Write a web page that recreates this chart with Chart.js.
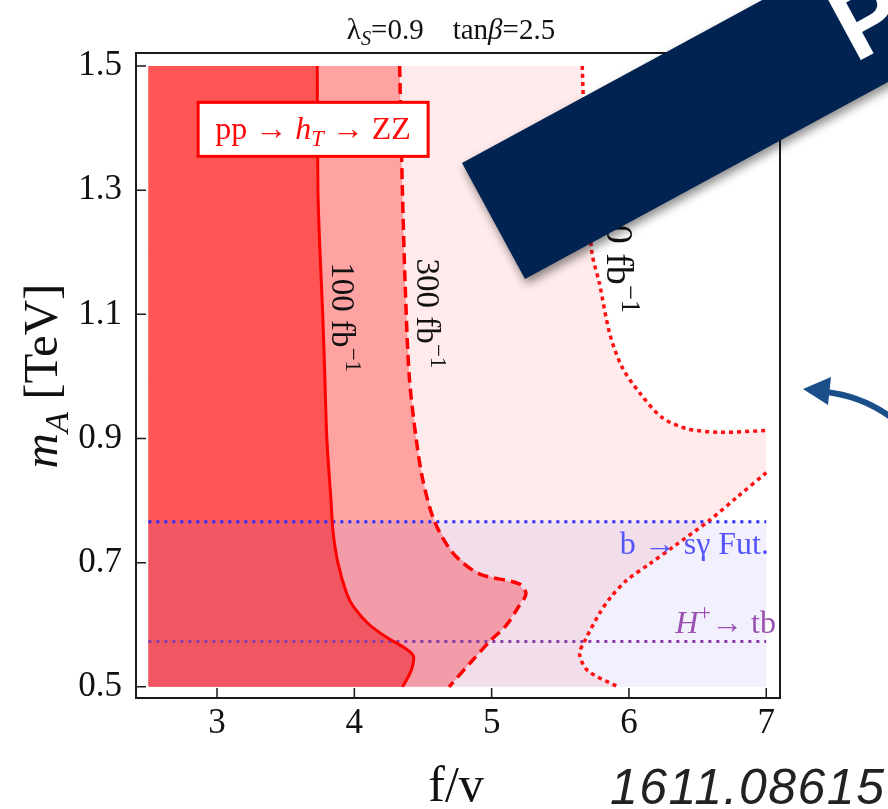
<!DOCTYPE html>
<html>
<head>
<meta charset="utf-8">
<script src="https://cdn.jsdelivr.net/npm/chart.js@4.4.1/dist/chart.umd.min.js"></script>
<style>
  html, body { margin: 0; padding: 0; background: #fff; }
  #wrap { position: relative; width: 888px; height: 809px; }
</style>
</head>
<body>
<div id="wrap"><canvas id="reach"></canvas></div>
<script>
// axis ticks
const xTicks = [3, 4, 5, 6, 7];
const yTicks = [0.5, 0.7, 0.9, 1.1, 1.3, 1.5];

// scanned parameter window: f/v and m_A [TeV]
const fvRange = [2.5, 7.0];
const mARange = [0.5, 1.5];

// pp -> h_T -> ZZ reach contours, points are [f/v, m_A]
const contour100 = [
  [3.73, 1.5], [3.735, 1.3], [3.75, 1.2], [3.77, 1.1], [3.785, 1.0], [3.80, 0.9],
  [3.83, 0.8], [3.845, 0.75], [3.88, 0.7], [3.945, 0.65], [4.00, 0.627], [4.11, 0.6],
  [4.24, 0.579], [4.35, 0.565], [4.43, 0.55], [4.42, 0.53], [4.39, 0.515], [4.35, 0.5]
];
const contour300 = [
  [4.33, 1.5], [4.35, 1.3], [4.37, 1.15], [4.40, 1.0], [4.45, 0.9], [4.50, 0.832],
  [4.585, 0.766], [4.72, 0.715], [4.91, 0.682], [5.20, 0.666], [5.25, 0.65],
  [5.19, 0.627], [5.11, 0.6], [4.985, 0.573], [4.85, 0.54], [4.69, 0.5]
];
const contour3000Upper = [
  [5.66, 1.5], [5.675, 1.4], [5.70, 1.3], [5.73, 1.2], [5.785, 1.15], [5.86, 1.069],
  [5.95, 1.015], [6.08, 0.973], [6.24, 0.934], [6.42, 0.916], [6.66, 0.91], [7.0, 0.913]
];
const contour3000Lower = [
  [7.0, 0.845], [6.79, 0.806], [6.585, 0.768], [6.32, 0.725], [6.15, 0.698],
  [5.98, 0.671], [5.87, 0.645], [5.785, 0.618], [5.676, 0.573], [5.64, 0.553],
  [5.70, 0.526], [5.92, 0.5]
];

// indirect bounds on m_A [TeV]
const bsgFuture = 0.766;
const chargedHiggsTb = 0.573;

const [x0, x1] = fvRange;
const [y0, y1] = mARange;
const toPts = arr => arr.map(([x, y]) => ({ x, y }));

const region100 = [{ x: x0, y: y1 }, ...toPts(contour100), { x: x0, y: y0 }];
const region300 = [{ x: x0, y: y1 }, ...toPts(contour300), { x: x0, y: y0 }];
const region3000 = [{ x: x0, y: y1 }, ...toPts(contour3000Upper), ...toPts(contour3000Lower), { x: x0, y: y0 }];
const flavourBand = [{ x: x0, y: y0 }, { x: x1, y: y0 }, { x: x1, y: bsgFuture }, { x: x0, y: bsgFuture }];

const area = (data, color, order) => ({
  data, showLine: true, fill: 'shape', backgroundColor: color,
  borderWidth: 0, pointRadius: 0, tension: 0, order
});
const curve = (data, color, width, dash, order, tension = 0.3) => ({
  data, showLine: true, fill: false, borderColor: color, borderWidth: width,
  borderDash: dash, borderCapStyle: 'butt', pointRadius: 0, tension, order
});

const SERIF = "'Liberation Serif', 'DejaVu Serif', serif";

// text made of runs: plain strings or [text, {i, sub, sup}]
function drawRich(ctx, parts, x, y, size, align, color) {
  const items = parts.map(p => {
    const [t, o] = typeof p === 'string' ? [p, {}] : p;
    const s = (o.sub || o.sup) ? size * 0.7 : size;
    const font = `${o.i ? 'italic ' : ''}${s}px ${SERIF}`;
    ctx.font = font;
    return { t, font, w: ctx.measureText(t).width, dy: o.sub ? size * 0.22 : o.sup ? -size * 0.4 : 0 };
  });
  const total = items.reduce((a, b) => a + b.w, 0);
  let cx = align === 'right' ? x - total : align === 'center' ? x - total / 2 : x;
  ctx.fillStyle = color;
  ctx.textAlign = 'left';
  ctx.textBaseline = 'alphabetic';
  for (const it of items) {
    ctx.font = it.font;
    ctx.fillText(it.t, cx, y + it.dy);
    cx += it.w;
  }
  return total;
}

const decor = {
  id: 'decor',
  afterDatasetsDraw(chart) {
    const { ctx, scales: { x, y } } = chart;
    ctx.save();

    // luminosity labels, running down along the contours
    const lumi = [
      ['100', 3.84, 1.184, 'left', 33],
      ['300', 4.46, 1.19, 'left', 33],
      ['3000', 5.84, 1.102, 'right', 38]
    ];
    for (const [l, fx, my, al, sz] of lumi) {
      ctx.save();
      ctx.translate(x.getPixelForValue(fx), y.getPixelForValue(my));
      ctx.rotate(Math.PI / 2);
      drawRich(ctx, [l + ' fb', ['−1', { sup: true }]], 0, 0, sz, al, '#111');
      ctx.restore();
    }

    // process box
    const bx = x.getPixelForValue(3.70), by = y.getPixelForValue(1.398);
    ctx.fillStyle = '#fff';
    ctx.fillRect(bx - 115, by - 27, 230, 54);
    ctx.strokeStyle = '#ff0000';
    ctx.lineWidth = 3;
    ctx.strokeRect(bx - 115, by - 27, 230, 54);
    drawRich(ctx, ['pp → ', ['h', { i: true }], ['T', { i: true, sub: true }], ' → ZZ'], bx, by + 10, 32, 'center', '#ff0a0a');

    // flavour bound labels
    drawRich(ctx, ['b → sγ Fut.'], x.getPixelForValue(7.02), y.getPixelForValue(0.7145), 32, 'right', '#5555ff');
    drawRich(ctx, [['H', { i: true }], ['+', { sup: true }], '→ tb'], x.getPixelForValue(7.07), y.getPixelForValue(0.587), 32, 'right', '#9a50b0');
    ctx.restore();
  },
  afterDraw(chart) {
    const { ctx, chartArea: a, scales: { x, y } } = chart;
    ctx.save();

    // frame with inward ticks on left and bottom
    ctx.strokeStyle = '#1a1a1a';
    ctx.lineWidth = 2;
    ctx.strokeRect(a.left, a.top, a.right - a.left, a.bottom - a.top);
    ctx.lineWidth = 1.5;
    ctx.beginPath();
    for (const v of yTicks) {
      const py = y.getPixelForValue(v);
      ctx.moveTo(a.left, py); ctx.lineTo(a.left + 10, py);
    }
    for (const v of xTicks) {
      const px = x.getPixelForValue(v);
      ctx.moveTo(px, a.bottom); ctx.lineTo(px, a.bottom - 10);
    }
    ctx.stroke();

    // title and axis titles
    drawRich(ctx, ['λ', ['S', { i: true, sub: true }], '=0.9    tan', ['β', { i: true }], '=2.5'], 451, 39, 29, 'center', '#111');
    drawRich(ctx, ['f/v'], 456, 801, 50, 'center', '#111');
    ctx.save();
    ctx.translate(57, 376);
    ctx.rotate(-Math.PI / 2);
    drawRich(ctx, [['m', { i: true }], ['A', { i: true, sub: true }], ' [TeV]'], 0, 0, 49, 'center', '#111');
    ctx.restore();

    // arXiv reference
    ctx.font = "italic 50px 'Liberation Sans', Arial, sans-serif";
    ctx.fillStyle = '#222';
    ctx.textAlign = 'left';
    ctx.letterSpacing = '1.5px';
    ctx.fillText('1611.08615', 610, 804);
    ctx.letterSpacing = '0px';

    // callout arrow
    ctx.strokeStyle = '#1b4f8a';
    ctx.fillStyle = '#1b4f8a';
    ctx.lineWidth = 6;
    ctx.beginPath();
    ctx.moveTo(826, 392);
    ctx.quadraticCurveTo(862, 396, 892, 418);
    ctx.stroke();
    ctx.beginPath();
    ctx.moveTo(803, 389); ctx.lineTo(831, 377); ctx.lineTo(828, 405);
    ctx.closePath();
    ctx.fill();

    // slanted banner
    ctx.save();
    ctx.translate(462, 163);
    ctx.rotate(-28.5 * Math.PI / 180);
    ctx.shadowColor = 'rgba(0,0,0,0.45)';
    ctx.shadowBlur = 10;
    ctx.shadowOffsetX = 2;
    ctx.shadowOffsetY = 5;
    ctx.fillStyle = '#012351';
    ctx.fillRect(0, 0, 900, 132);
    ctx.shadowColor = 'transparent';
    ctx.fillStyle = '#fff';
    ctx.font = "bold 100px 'Liberation Sans', Arial, sans-serif";
    ctx.fillText('P', 393, 100);
    ctx.restore();

    ctx.restore();
  }
};

const tickFont = { family: SERIF, size: 35 };

new Chart(document.getElementById('reach'), {
  type: 'scatter',
  data: {
    datasets: [
      curve(toPts(contour100), '#ff0000', 3, [], 1),
      curve(toPts(contour300), '#ff0000', 3.5, [11, 6], 2),
      curve(toPts(contour3000Upper), '#ff1010', 3.5, [4, 4], 3),
      curve(toPts(contour3000Lower), '#ff1010', 3.5, [4, 4], 4),
      curve([{ x: x0, y: bsgFuture }, { x: x1, y: bsgFuture }], '#2a2aff', 3, [3, 5], 5, 0),
      curve([{ x: x0, y: chargedHiggsTb }, { x: x1, y: chargedHiggsTb }], '#8a3aa8', 3, [3, 5], 6, 0),
      area(flavourBand, 'rgba(120,110,230,0.1)', 7),
      area(region100, '#ff5555', 8),
      area(region300, '#ffa2a2', 9),
      area(region3000, '#ffebeb', 10)
    ]
  },
  options: {
    responsive: true,
    maintainAspectRatio: false,
    animation: false,
    layout: { padding: { top: 53, right: 108, left: 0, bottom: 0 } },
    plugins: { legend: { display: false }, tooltip: { enabled: false } },
    scales: {
      x: {
        type: 'linear', min: 2.41, max: 7.1,
        afterBuildTicks: s => { s.ticks = xTicks.map(v => ({ value: v })); },
        afterFit: s => { s.height = 111; },
        grid: { display: false }, border: { display: false },
        ticks: { font: tickFont, color: '#111', padding: -3, maxRotation: 0, callback: v => String(v) }
      },
      y: {
        type: 'linear', min: 0.482, max: 1.521,
        afterBuildTicks: s => { s.ticks = yTicks.map(v => ({ value: v })); },
        afterFit: s => { s.width = 136; },
        grid: { display: false }, border: { display: false },
        ticks: { font: tickFont, color: '#111', padding: 6, callback: v => v.toFixed(1) }
      }
    }
  },
  plugins: [decor]
});
</script>
</body>
</html>
